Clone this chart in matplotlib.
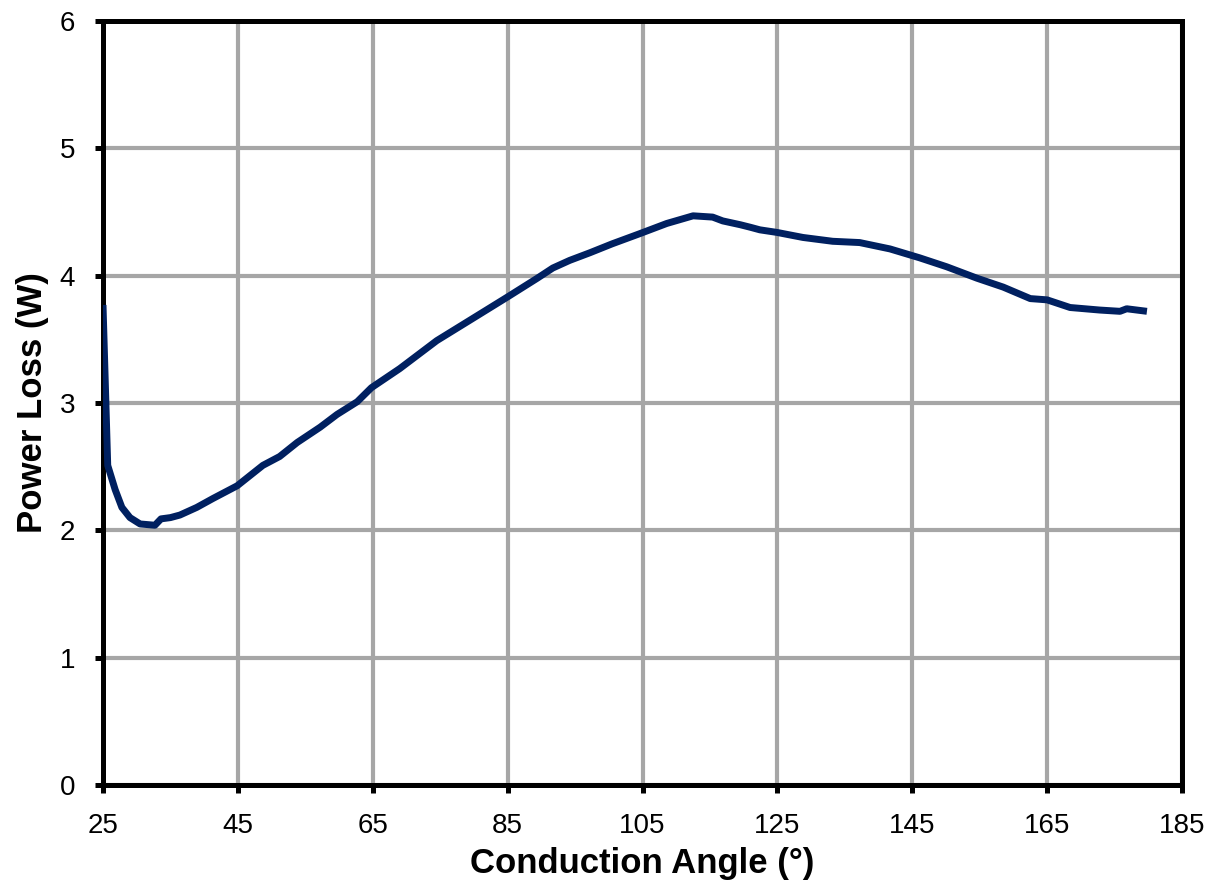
import matplotlib
matplotlib.use("Agg")
import matplotlib.pyplot as plt

angle = [25.0, 25.7, 26.8, 27.8, 29.0, 30.5, 32.7, 33.6, 35.0, 36.4, 38.9, 41.3, 44.9,
         48.7, 51.2, 53.8, 57.2, 59.7, 62.7, 64.8, 69.0, 74.5, 79.4, 84.9, 89.4, 91.7,
         94.2, 97.2, 100.5, 104.6, 108.6, 112.5, 115.4, 116.9, 119.5, 121.0, 122.4,
         124.9, 128.8, 133.2, 137.2, 141.7, 146.1, 150.1, 154.6, 158.5, 162.5, 165.0,
         168.4, 172.8, 175.8, 176.8, 179.8]
power = [3.77, 2.51, 2.32, 2.18, 2.10, 2.05, 2.04, 2.09, 2.10, 2.12, 2.18, 2.25, 2.35,
         2.51, 2.58, 2.69, 2.81, 2.91, 3.01, 3.12, 3.27, 3.49, 3.65, 3.83, 3.98, 4.06,
         4.12, 4.18, 4.25, 4.33, 4.41, 4.47, 4.46, 4.43, 4.40, 4.38, 4.36,
         4.34, 4.30, 4.27, 4.26, 4.21, 4.14, 4.07, 3.98, 3.91, 3.82, 3.81,
         3.75, 3.73, 3.72, 3.74, 3.72]

xticks = [25, 45, 65, 85, 105, 125, 145, 165, 185]
yticks = [0, 1, 2, 3, 4, 5, 6]

plt.rcParams['font.family'] = ['Liberation Sans', 'DejaVu Sans']

fig = plt.figure(figsize=(12.15, 8.88), dpi=100)
ax = fig.add_axes([103/1215, 1-785/888, (1182-103)/1215, (785-21)/888])

ax.plot(angle, power, color='#002060', lw=5, solid_capstyle='butt', solid_joinstyle='round', zorder=3)

ax.set_xlim(25, 185)
ax.set_ylim(0, 6)
ax.set_xticks(xticks)
ax.set_yticks(yticks)
ax.grid(True, color='#A6A6A6', lw=3)
ax.set_axisbelow(True)
for s in ax.spines.values():
    s.set_linewidth(3.6)
    s.set_color('black')
ax.tick_params(direction='out', length=6, width=3.6, labelsize=20, colors='black')
ax.tick_params(axis='x', pad=14)
ax.tick_params(axis='y', pad=14)
ax.set_xlabel('Conduction Angle (°)', fontsize=25, fontweight='bold', labelpad=6)
ax.set_ylabel('Power Loss (W)', fontsize=25, fontweight='bold', labelpad=8)

fig.savefig('out.png', dpi=100)
